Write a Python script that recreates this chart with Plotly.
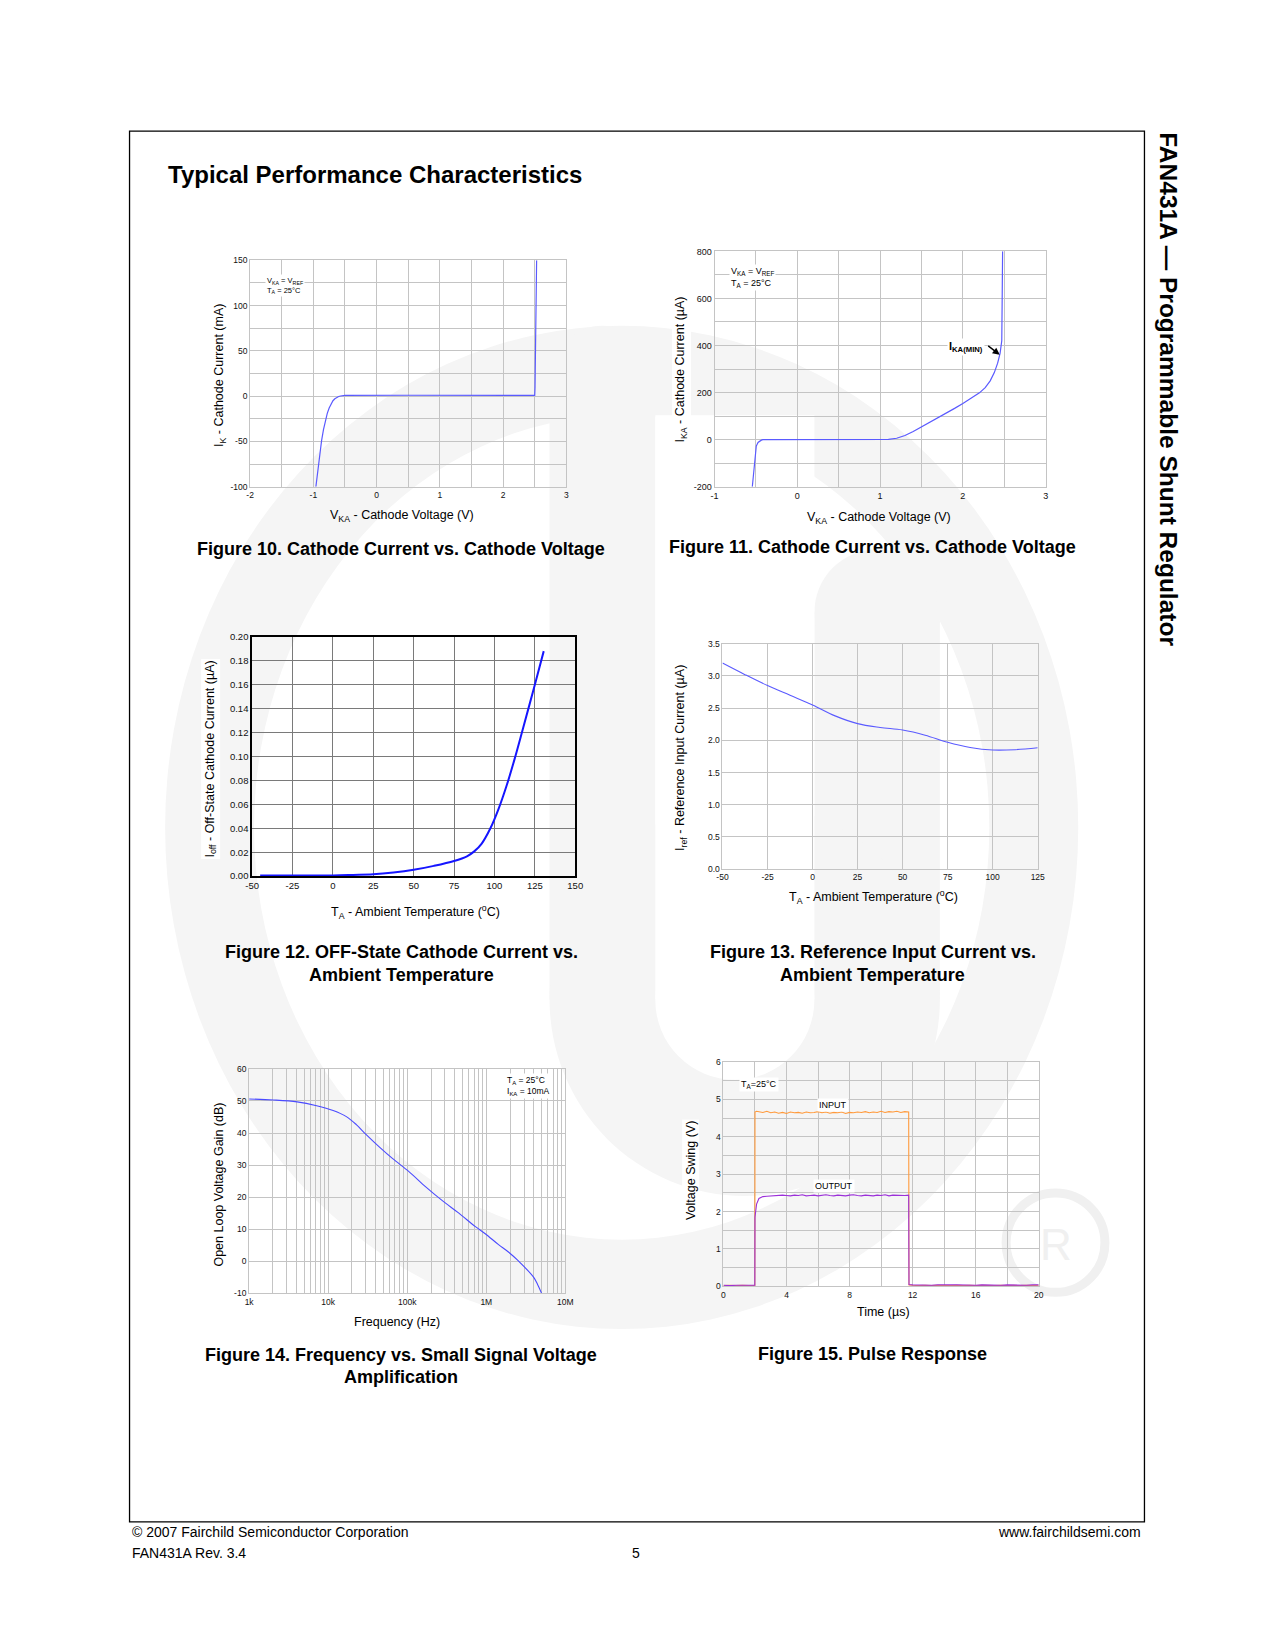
import plotly.graph_objects as go

W, H = 1275, 1650
FONT = "Liberation Sans, Arial, Helvetica, sans-serif"

# ---------------- data ----------------
# Figure 10: cathode current (mA) vs cathode voltage (V)
v10 = [-0.96, -0.93, -0.90, -0.87, -0.84, -0.81, -0.78, -0.75, -0.72, -0.69, -0.66, -0.63,
       -0.60, -0.57, -0.54, -0.50, 0.5, 1.5, 2.50, 2.505, 2.51, 2.515, 2.53]
i10 = [-100, -82, -64, -49, -37, -27, -19, -13, -8.5, -5, -2.8, -1.3,
       -0.4, 0.2, 0.6, 0.8, 1.0, 1.0, 0.9, 10, 60, 100, 150]
x10_ticks = [-2, -1, 0, 1, 2, 3]
y10_ticks = [-100, -50, 0, 50, 100, 150]

# Figure 11: cathode current (uA) vs cathode voltage (V)
v11 = [-0.544, -0.535, -0.524, -0.51, -0.496, -0.475, -0.456, -0.435, -0.417, 0.0, 0.5, 1.0,
       1.10, 1.20, 1.30, 1.40, 1.50, 1.60, 1.70, 1.80, 1.90, 2.00, 2.10, 2.20, 2.27, 2.33,
       2.38, 2.42, 2.45, 2.47, 2.475, 2.48]
i11 = [-200, -160, -118, -70, -27, -12, -5.6, -2, 0, 0, 0, 0.5,
       1, 6, 18, 35, 54, 73, 93, 113, 133, 154, 175, 199, 221, 250,
       285, 325, 368, 420, 600, 800]
x11_ticks = [-1, 0, 1, 2, 3]
y11_ticks = [-200, 0, 200, 400, 600, 800]

# Figure 12: off-state cathode current (uA) vs ambient temperature (C)
t12 = [-45, -25, 0, 12.5, 25, 37.5, 50, 62.5, 75, 83, 87.5, 92, 97.5, 102.5, 107.5, 112.5,
       117.5, 125, 130.5]
i12 = [0.0005, 0.0005, 0.0006, 0.001, 0.0015, 0.003, 0.0053, 0.0086, 0.0127, 0.0166, 0.0207,
       0.027, 0.040, 0.056, 0.0755, 0.098, 0.1225, 0.160, 0.188]
x12_ticks = [-50, -25, 0, 25, 50, 75, 100, 125, 150]

# Figure 13: reference input current (uA) vs ambient temperature (C)
t13 = [-50, -37.5, -25, -12.5, 0, 12.5, 25, 37.5, 50, 62.5, 75, 87.5, 100, 112.5, 125]
i13 = [3.20, 3.02, 2.85, 2.70, 2.55, 2.38, 2.26, 2.20, 2.16, 2.08, 1.97, 1.89, 1.85, 1.855, 1.885]
x13_ticks = [-50, -25, 0, 25, 50, 75, 100, 125]

# Figure 14: open loop gain (dB) vs frequency (Hz)
f14 = [1000, 2042, 4046, 7145, 11560, 16980, 22700, 30270, 44570, 65460, 105900, 171400,
       278000, 449800, 727800, 970000, 1429000, 1905000, 2547000, 3981000, 4467000, 5012000]
g14 = [50.6, 50.3, 49.7, 48.5, 47.0, 45.1, 42.6, 39.5, 35.6, 32.0, 27.9, 23.2,
       18.9, 15.0, 10.8, 8.6, 5.2, 2.9, 0.1, -5.0, -7.3, -10.0]
y14_ticks = [-10, 0, 10, 20, 30, 40, 50, 60]
decades = [1e3, 1e4, 1e5, 1e6, 1e7]
decade_labels = ["1k", "10k", "100k", "1M", "10M"]

# Figure 15: pulse response (V) vs time (us)
t15 = [0.0, 0.4, 0.8, 1.2, 1.6, 1.99,
       2.0, 2.1,
       2.25, 2.5, 2.75, 3.0, 3.25, 3.5, 3.75, 4.0, 4.25, 4.5, 4.75, 5.0, 5.25, 5.5, 5.75, 6.0,
       6.25, 6.5, 6.75, 7.0, 7.25, 7.5, 7.75, 8.0, 8.25, 8.5, 8.75, 9.0, 9.25, 9.5, 9.75, 10.0,
       10.25, 10.5, 10.75, 11.0, 11.25, 11.5, 11.75,
       11.77,
       12.0, 12.4, 12.8, 13.2, 13.6, 14.0, 14.4, 14.8, 15.2, 15.6, 16.0, 16.4, 16.8, 17.2, 17.6,
       18.0, 18.4, 18.8, 19.2, 19.6, 20.0]
vin15 = [0.02, 0.03, 0.02, 0.03, 0.02, 0.02,
         4.66, 4.68,
         4.67, 4.65, 4.68, 4.64, 4.66, 4.63, 4.65, 4.62, 4.66, 4.64, 4.65, 4.63, 4.66, 4.64,
         4.65, 4.67, 4.64, 4.66, 4.63, 4.65, 4.64, 4.66, 4.62, 4.65, 4.64, 4.66, 4.65, 4.67,
         4.64, 4.66, 4.65, 4.68, 4.65, 4.67, 4.66, 4.68, 4.65, 4.67, 4.66,
         0.04,
         0.03, 0.02, 0.03, 0.02, 0.03, 0.02, 0.02, 0.03, 0.02, 0.03, 0.02, 0.03, 0.02, 0.02,
         0.03, 0.02, 0.03, 0.02, 0.03, 0.02, 0.03]
vout15 = [0.03, 0.02, 0.03, 0.03, 0.02, 0.03,
          1.85, 2.20,
          2.35, 2.40, 2.41, 2.42, 2.43, 2.42, 2.44, 2.43, 2.42, 2.44, 2.43, 2.45, 2.42, 2.43,
          2.44, 2.42, 2.43, 2.45, 2.43, 2.42, 2.44, 2.43, 2.42, 2.44, 2.45, 2.43, 2.42, 2.44,
          2.43, 2.42, 2.44, 2.43, 2.45, 2.42, 2.44, 2.43, 2.44, 2.43, 2.44,
          0.05,
          0.04, 0.03, 0.04, 0.03, 0.04, 0.03, 0.04, 0.04, 0.03, 0.04, 0.03, 0.04, 0.03, 0.04,
          0.03, 0.04, 0.03, 0.04, 0.03, 0.04, 0.04]
x15_ticks = [0, 4, 8, 12, 16, 20]
y15_ticks = [0, 1, 2, 3, 4, 5, 6]

# ---------------- helpers ----------------
def dx(x0, x1):
    return [x0 / W, x1 / W]

def dy(top, bottom):
    return [1 - bottom / H, 1 - top / H]

GRID = "#c4c4c4"
DARKGRID = "#7a7a7a"


def axis(domain, anchor, rng, vals=None, texts=None, size=9, grid=GRID, line=GRID, lw=1,
         gw=1, minor=None, fmt=None, dtick=None, tick0=None, **kw):
    d = dict(domain=domain, anchor=anchor, range=rng,
             showgrid=True, gridcolor=grid, gridwidth=gw, showline=True, linecolor=line,
             linewidth=lw, mirror=True, zeroline=False, ticks="", fixedrange=True,
             tickfont=dict(family=FONT, size=size, color="#111111"))
    if vals is not None:
        d["tickmode"] = "array"
        d["tickvals"] = vals
        d["ticktext"] = texts if texts is not None else [str(v) for v in vals]
    else:
        d["dtick"] = dtick
        d["tick0"] = tick0
    if minor is not None:
        d["minor"] = dict(tickmode="linear", dtick=minor, tick0=rng[0], showgrid=True,
                          gridcolor=grid, gridwidth=gw, ticks="")
    if fmt:
        d["tickformat"] = fmt
    d.update(kw)
    return d


annots = []


def ann(text, x, y, size, bold=False, xanchor="center", yanchor="middle", angle=0,
        bg=None, color="#000000", align="center"):
    a = dict(text=("<b>%s</b>" % text) if bold else text, x=x / W, y=1 - y / H,
             xref="paper", yref="paper", showarrow=False, xanchor=xanchor, yanchor=yanchor,
             textangle=angle, align=align,
             font=dict(family=FONT, size=size, color=color))
    if bg:
        a["bgcolor"] = bg
        a["borderpad"] = 1
    annots.append(a)


shapes = []
WM = "#f5f5f5"


def shp(kind, x0, y0, x1, y1, fill=None, line_color=None, lw=0, layer="below"):
    s = dict(type=kind, xref="paper", yref="paper", x0=x0 / W, x1=x1 / W,
             y0=1 - y1 / H, y1=1 - y0 / H, layer=layer,
             line=dict(width=lw, color=line_color or "rgba(0,0,0,0)"))
    s["fillcolor"] = fill if fill else "rgba(0,0,0,0)"
    shapes.append(s)


# ---------------- watermark (faint logo) ----------------
shp("circle", 160, 322, 1084, 1332, fill=WM)
shp("circle", 250, 412, 994, 1242, fill="#ffffff")
shp("rect", 549, 375, 656, 1000, fill=WM)
shp("circle", 549, 322, 656, 429, fill=WM)
shp("rect", 817, 610, 944, 1000, fill=WM)
shp("circle", 817, 547, 944, 674, fill=WM)
shp("circle", 549, 802, 944, 1198, fill=WM)
shp("rect", 656, 412, 817, 1000, fill="#ffffff")
shp("circle", 656, 920, 817, 1081, fill="#ffffff")
shp("circle", 1011, 1195, 1111, 1295, line_color="#f0f0f0", lw=9)
ann("R", 1061, 1247, 44, color="#f0f0f0")

# page border
shp("rect", 124, 126, 1151, 1526, line_color="#000000", lw=1.3, layer="above")

# ---------------- figure ----------------
fig = go.Figure()

def line_trace(x, y, ax, color, width, shape="linear"):
    fig.add_trace(go.Scatter(x=x, y=y, xaxis="x" + ax, yaxis="y" + ax, mode="lines",
                             line=dict(color=color, width=width, shape=shape),
                             showlegend=False, hoverinfo="skip"))

line_trace(v10, i10, "", "#5a5aff", 1.2)
line_trace(v11, i11, "2", "#5a5aff", 1.2)
line_trace(t12, i12, "3", "#1515ff", 2.0, "spline")
line_trace(t13, i13, "4", "#5a5aff", 1.1, "spline")
line_trace(f14, g14, "5", "#4a4aff", 1.1, "spline")
line_trace(t15, vin15, "6", "#ff9a3c", 1.1)
line_trace(t15, vout15, "6", "#9b30d9", 1.1)

# minor log grid lines at 2..9 of every decade
log_minor = []
for d in decades[:-1]:
    for m in range(2, 10):
        log_minor.append(d * m)

fig.update_layout(
    width=W, height=H, margin=dict(l=0, r=0, t=0, b=0),
    paper_bgcolor="#ffffff", plot_bgcolor="rgba(0,0,0,0)", showlegend=False,
    xaxis=axis(dx(246, 566), "y", [-2, 3], x10_ticks, size=8.5, minor=0.5),
    yaxis=axis(dy(256, 484), "x", [-100, 150], y10_ticks, size=8.5, minor=25),
    xaxis2=axis(dx(716, 1051), "y2", [-1, 3], x11_ticks, size=9, minor=0.5),
    yaxis2=axis(dy(247, 484), "x2", [-200, 800], y11_ticks, size=9, minor=100),
    xaxis3=axis(dx(248, 575), "y3", [-50, 150], x12_ticks, size=9.5, grid=DARKGRID,
                line="#000000", lw=1.5, gw=1.3),
    yaxis3=axis(dy(635, 876), "x3", [0, 0.2], None, size=9.5, grid=DARKGRID,
                line="#000000", lw=1.5, gw=1.3, fmt=".2f", dtick=0.02, tick0=0),
    xaxis4=axis(dx(724, 1043), "y4", [-50, 125], x13_ticks, size=8.5),
    yaxis4=axis(dy(642, 869), "x4", [0, 3.5], None, size=8.5, fmt=".1f", dtick=0.5, tick0=0),
    xaxis5=dict(domain=dx(245, 565), anchor="y5", type="log", range=[3, 7],
                tickmode="array", tickvals=decades, ticktext=decade_labels,
                minor=dict(tickmode="array", tickvals=log_minor, showgrid=True,
                           gridcolor=GRID, gridwidth=1, ticks=""),
                showgrid=True, gridcolor=GRID, gridwidth=1, showline=True, linecolor=GRID,
                mirror=True, zeroline=False, ticks="", fixedrange=True,
                tickfont=dict(family=FONT, size=8.5, color="#111111")),
    yaxis5=axis(dy(1070, 1296), "x5", [-10, 60], y14_ticks, size=8.5),
    xaxis6=axis(dx(725, 1044), "y6", [0, 20], x15_ticks, size=8.5, minor=2),
    yaxis6=axis(dy(1063, 1289), "x6", [0, 6], y15_ticks, size=8.5, minor=0.5),
)

# ---------------- text ----------------
ann("Typical Performance Characteristics", 161, 170, 24, bold=True, xanchor="left")
ann("FAN431A — Programmable Shunt Regulator", 1175, 386, 24.5, bold=True, angle=90)

# axis titles
AT = 12.5
ann("I<sub>K</sub> - Cathode Current (mA)", 215, 372, AT, angle=-90, bg="#ffffff")
ann("V<sub>KA</sub> - Cathode Voltage (V)", 400, 513, AT)
ann("I<sub>KA</sub> - Cathode Current (µA)", 682, 366, AT, angle=-90, bg="#ffffff")
ann("V<sub>KA</sub> - Cathode Voltage (V)", 882, 515, AT)
ann("I<sub>off</sub> - Off-State Cathode Current (µA)", 206, 758, AT, angle=-90, bg="#ffffff")
ann("T<sub>A</sub> - Ambient Temperature (<sup>o</sup>C)", 413, 912, AT)
ann("I<sub>ref</sub> - Reference Input Current (µA)", 682, 757, AT, angle=-90, bg="#ffffff")
ann("T<sub>A</sub> - Ambient Temperature (<sup>o</sup>C)", 877, 897, AT)
ann("Open Loop Voltage Gain (dB)", 215, 1186, AT, angle=-90, bg="#ffffff")
ann("Frequency (Hz)", 395, 1325, AT)
ann("Voltage Swing (V)", 692, 1172, AT, angle=-90, bg="#ffffff")
ann("Time (µs)", 887, 1315, AT)

# in-plot notes
ann("V<sub>KA</sub> = V<sub>REF</sub><br>T<sub>A</sub> = 25°C", 261, 281, 7.5,
    xanchor="left", bg="#ffffff", align="left")
ann("V<sub>KA</sub> = V<sub>REF</sub><br>T<sub>A</sub> = 25°C", 731, 273, 9,
    xanchor="left", bg="#ffffff", align="left")
ann("T<sub>A</sub> = 25°C<br>I<sub>KA</sub> = 10mA", 504, 1087, 8.5,
    xanchor="left", bg="#ffffff", align="left")
ann("T<sub>A</sub>=25°C", 741, 1086, 9, xanchor="left", bg="#ffffff")
ann("INPUT", 836, 1106, 9, bg="#ffffff")
ann("OUTPUT", 837, 1188, 9, bg="#ffffff")
ann("I<sub>KA(MIN)</sub>", 970, 343, 11, bold=True, bg="#ffffff")
annots.append(dict(x=2.445, y=361, xref="x2", yref="y2", text="", showarrow=True,
                   axref="pixel", ayref="pixel", ax=-13, ay=-10, arrowhead=2,
                   arrowsize=1, arrowwidth=1.4, arrowcolor="#000000"))

# captions
CS = 18
ann("Figure 10. Cathode Current vs. Cathode Voltage", 399, 547, CS, bold=True)
ann("Figure 11. Cathode Current vs. Cathode Voltage", 876, 545, CS, bold=True)
ann("Figure 12. OFF-State Cathode Current vs.", 399, 952, CS, bold=True)
ann("Ambient Temperature", 399, 975, CS, bold=True)
ann("Figure 13. Reference Input Current vs.", 876, 952, CS, bold=True)
ann("Ambient Temperature", 876, 975, CS, bold=True)
ann("Figure 14. Frequency vs. Small Signal Voltage", 399, 1358, CS, bold=True)
ann("Amplification", 399, 1380, CS, bold=True)
ann("Figure 15. Pulse Response", 876, 1357, CS, bold=True)

# footer
ann("© 2007 Fairchild Semiconductor Corporation", 124, 1536, 14, xanchor="left")
ann("FAN431A Rev. 3.4", 124, 1557, 14, xanchor="left")
ann("5", 636, 1557, 14)
ann("www.fairchildsemi.com", 1150, 1536, 14, xanchor="right")

fig.update_layout(annotations=annots, shapes=shapes)
fig.write_html("out.html", config={"displayModeBar": False},
               post_script="document.body.style.margin='0';"
                           "document.body.style.padding='0';"
                           "document.body.style.overflow='hidden';")
